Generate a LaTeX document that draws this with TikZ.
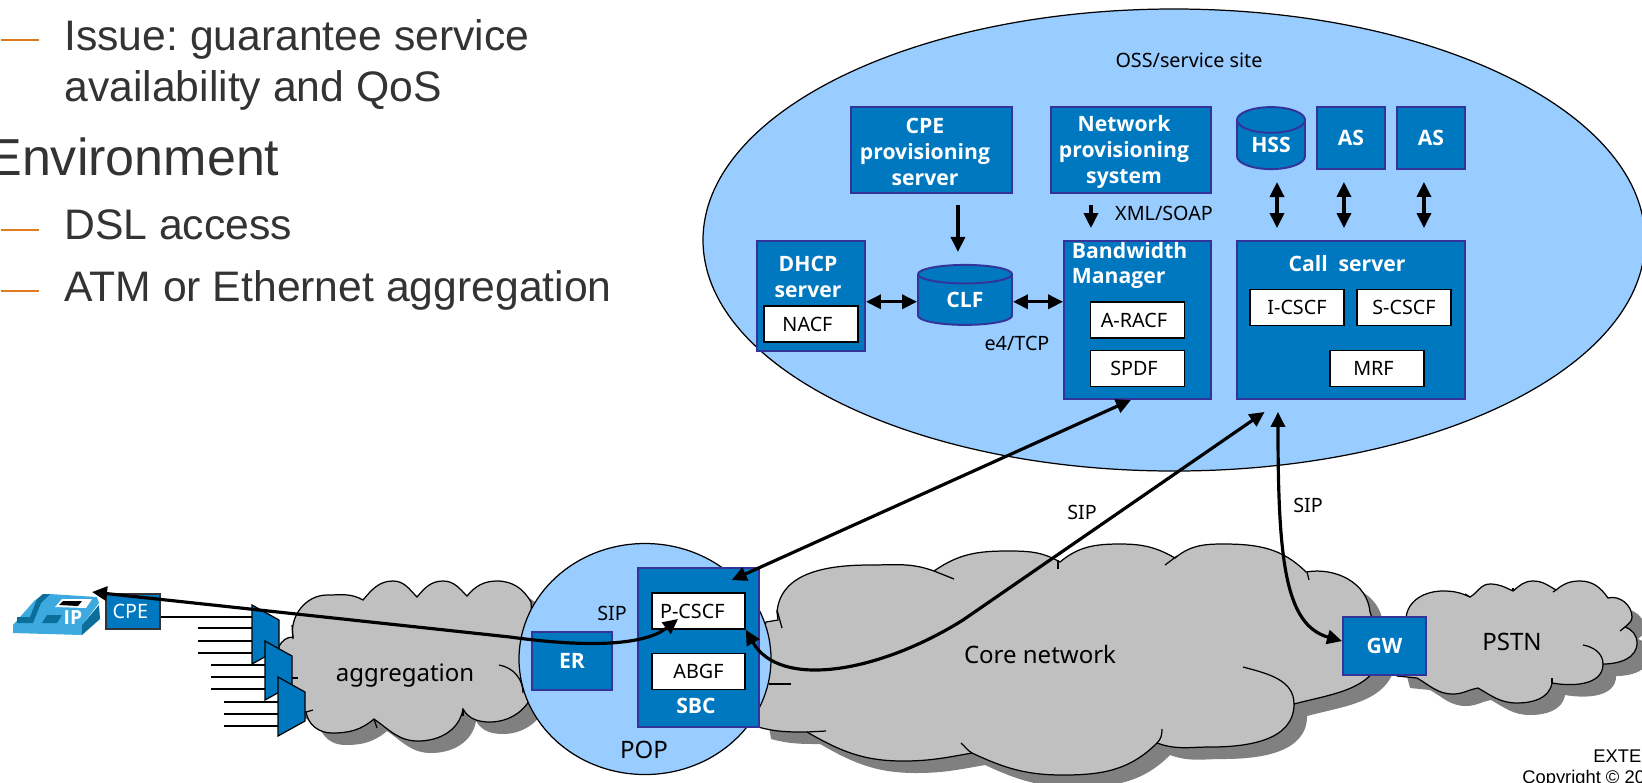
\documentclass[tikz,border=0pt]{standalone}
\usepackage{fontspec}
\setmainfont{Noto Sans}
\newfontfamily\slidefont{Liberation Sans}
\newfontfamily\boxfont{Open Sans}
\usetikzlibrary{arrows.meta,shapes.geometric}
\definecolor{ossblue}{RGB}{153,204,255}
\definecolor{boxblue}{RGB}{0,120,192}
\definecolor{boxedge}{RGB}{51,51,153}
\definecolor{cloudgray}{RGB}{192,192,192}
\definecolor{cloudshade}{RGB}{128,128,128}
\definecolor{slidegray}{RGB}{51,51,51}
\definecolor{dashorange}{RGB}{224,123,31}
\definecolor{phonelight}{RGB}{60,170,222}
\definecolor{phonedark}{RGB}{12,110,155}
\def\px{0.5669pt}
\tikzset{
  bluebox/.style={draw=boxedge,fill=boxblue,line width=1.1pt,text=white,align=center,inner sep=0pt,
    font=\boxfont\fontsize{12}{14.6}\selectfont\bfseries},
  boxtext/.style={bluebox,draw=none,fill=none},
  whitebox/.style={draw=black,fill=white,line width=.9pt,inner sep=0pt,minimum width=94*\px,minimum height=36*\px,
    font=\fontsize{11.2}{13}\selectfont},
  dbcyl/.style={bluebox,shape=cylinder,shape border rotate=90,cylinder uses custom fill,
    cylinder body fill=boxblue,cylinder end fill=boxblue},
  bubble/.style={draw=black,fill=ossblue,line width=.7pt,shape=ellipse,inner sep=0pt},
  cloudy/.style={draw=black,fill=cloudgray,line width=.7pt,
    preaction={draw=none,fill=cloudshade,transform canvas={shift={(7.4pt,-6.8pt)}}}},
  curl/.style={draw=black,line width=.7pt},
  lbl/.style={font=\fontsize{11.2}{13}\selectfont},
  bigl/.style={font=\fontsize{13.6}{15}\selectfont},
  slidetxt/.style={anchor=base west,inner sep=0pt,text=slidegray,font=\slidefont\frenchspacing\fontsize{24.2}{26}\selectfont},
  uni/.style={line width=1.8pt,-{Triangle[length=8.5pt,width=8pt]}},
  bidir/.style={line width=1.8pt,{Triangle[length=8.5pt,width=8pt]}-{Triangle[length=8.5pt,width=8pt]}},
  wire/.style={draw=black,line width=.8pt},
  mux/.style={draw=black,fill=boxblue,line width=.7pt}
}
\begin{document}
\begin{tikzpicture}[x=\px,y=-\px]
  \useasboundingbox (0,0) rectangle (1642,782);

  % slide text
  \node[slidetxt] (issue) at (64,50) {Issue: guarantee service};
  \node[slidetxt] (avail) at (64,101) {availability and QoS};
  \node[slidetxt,font=\slidefont\fontsize{29.5}{30}\selectfont] (env) at (-13,175) {Environment};
  \node[slidetxt] (dsl) at (64,239) {DSL access};
  \node[slidetxt] (atm) at (64,301) {ATM or Ethernet aggregation};
  \foreach \y in {40,230,291} \draw[dashorange,line width=1.6pt] (1,\y) -- (39,\y);

  % OSS site
  \node[bubble,minimum width=942*\px,minimum height=462*\px] (oss) at (1174,240) {};
  \node[lbl] (osslabel) at (1189,60) {OSS/service site};
  \node[bluebox,minimum width=161*\px,minimum height=86*\px] (cpeprov) at (931.5,150) {};
  \node[boxtext] (cpelabel) at (925,152) {CPE\\provisioning\\server};
  \node[bluebox,minimum width=160*\px,minimum height=86*\px] (netprov) at (1131,150) {};
  \node[boxtext] (netlabel) at (1124,152) {Network\\provisioning\\system};
  \node[dbcyl,aspect=.65,minimum width=68*\px,minimum height=62*\px] (hss) at (1271,145) {HSS};
  \node[bluebox,minimum width=68*\px,minimum height=62*\px] (asone) at (1351,138) {AS};
  \node[bluebox,minimum width=68*\px,minimum height=62*\px] (astwo) at (1431,138) {AS};
  \node[bluebox,minimum width=108*\px,minimum height=110*\px] (dhcp) at (811,296) {};
  \node[boxtext] (dhcplabel) at (808,277) {DHCP\\server};
  \node[whitebox] (nacf) at (811,324) {NACF\kern4pt};
  \node[dbcyl,aspect=.5,minimum width=94*\px,minimum height=60*\px] (clf) at (965,300) {CLF};
  \node[bluebox,minimum width=147*\px,minimum height=158*\px] (bwmgr) at (1137.5,320) {};
  \node[boxtext,align=left,anchor=north west] (bwlabel) at (1071,241) {Bandwidth\\Manager};
  \node[whitebox] (aracf) at (1137.5,320) {A-RACF\kern4pt};
  \node[whitebox] (spdf) at (1137.5,368.5) {SPDF\kern4pt};
  \node[bluebox,minimum width=228*\px,minimum height=158*\px] (callsrv) at (1351,320) {};
  \node[boxtext] (calllabel) at (1347,264) {Call\ \ server};
  \node[whitebox] (icscf) at (1297,307.5) {I-CSCF};
  \node[whitebox] (scscf) at (1404,307.5) {S-CSCF};
  \node[whitebox] (mrf) at (1377,368.5) {MRF\kern4pt};
  \node[lbl] (xml) at (1164,213) {XML/SOAP};
  \node[lbl] (etcp) at (1017,343) {e4/TCP};

  % clouds
  \draw[cloudy] (777,612) to[out=85,in=180] (870,565) to[out=0,in=160] (934,571)
    to[out=35,in=180] (1007,551) to[out=0,in=150] (1060,562)
    to[out=40,in=180] (1120,544) to[out=0,in=150] (1175,558)
    to[out=40,in=180] (1223,544) to[out=0,in=135] (1306,572)
    to[out=10,in=95] (1370,612) -- (1383,650) to[out=-100,in=15] (1294,704)
    to[out=-90,in=0] (1210,747) to[out=180,in=-20] (1157,743)
    to[out=-135,in=0] (1063,775) to[out=180,in=-25] (972,753)
    to[out=190,in=0] (903,761) to[out=180,in=-30] (807,732)
    to[out=180,in=-15] (758,727) -- (750,680) -- (766,622) -- (778,620) -- cycle;
  \draw[curl] (777,610) -- (782,628);
  \draw[curl] (934,571) -- (954,579);
  \draw[curl] (1058,560) -- (1058,569);
  \draw[curl] (1165,565) -- (1177,556);
  \draw[curl] (1307,572) -- (1309,580);
  \draw[curl] (1243,667) to[out=-15,in=90] (1294,704);
  \draw[curl] (1162,729) to[out=-90,in=45] (1157,743);
  \draw[curl] (961,743) to[out=-40,in=150] (972,753);
  \draw[curl] (807,732) -- (826,731);
  \draw[curl] (769,684) -- (791,684);

  \draw[cloudy] (293,637) to[out=100,in=180] (327,595) to[out=0,in=150] (363,600)
    to[out=50,in=180] (393,581) to[out=0,in=135] (417,597)
    to[out=50,in=180] (443,581) to[out=0,in=135] (467,596)
    to[out=50,in=180] (497,581) to[out=0,in=120] (531,602)
    -- (535,680) to[out=-90,in=0] (490,722) to[out=180,in=-60] (463,709)
    to[out=-100,in=0] (418,741) to[out=180,in=-35] (374,719)
    to[out=-140,in=0] (332,733) to[out=180,in=-80] (306,712)
    to[out=170,in=-90] (275,665) to[out=90,in=180] cycle;
  \draw[curl] (499,665) to[out=-10,in=90] (523,693);
  \draw[curl] (463,709) -- (463,716);
  \draw[curl] (374,719) -- (377,728);
  \draw[curl] (292,625) -- (293,639);
  \draw[curl] (292,678) -- (298,678);
  \draw[curl] (306,712) -- (313,710);

  \draw[cloudy] (1406,618) to[out=85,in=180] (1443,591) to[out=0,in=155] (1470,597)
    to[out=30,in=180] (1490,584) to[out=0,in=155] (1513,591)
    to[out=40,in=180] (1533,581) to[out=0,in=150] (1556,590)
    to[out=40,in=180] (1580,581) to[out=0,in=125] (1608,598)
    to[out=15,in=90] (1632,617) to[out=-90,in=45] (1625,627)
    to[out=-20,in=90] (1637,643) to[out=-90,in=0] (1603,664)
    to[out=-90,in=-10] (1552,683)
    to[out=-100,in=0] (1517,703) to[out=180,in=-30] (1478,688)
    to[out=190,in=0] (1453,694) to[out=180,in=-30] (1417,678)
    -- (1397,676) -- (1390,650) -- cycle;
  \draw[curl] (1465,594) -- (1470,597);
  \draw[curl] (1513,588) -- (1513,591);
  \draw[curl] (1553,592) -- (1556,590);
  \draw[curl] (1620,631) -- (1625,627);
  \draw[curl] (1583,645) to[out=-10,in=90] (1603,664);
  \draw[curl] (1552,678) -- (1552,683);

  \node[bigl] (agglabel) at (405,676) {aggregation};
  \node[bigl] (corelabel) at (1040,654) {Core network};
  \node[bigl] (pstnlabel) at (1512,642) {PSTN};

  % POP
  \node[bubble,minimum width=252*\px,minimum height=231*\px] (pop) at (645,659) {};
  \node[bigl] (poplabel) at (644,750) {POP};
  \node[lbl] (popsip) at (612,613) {SIP};
  \node[bluebox,minimum width=80*\px,minimum height=58*\px] (er) at (572,661) {ER};
  \node[bluebox,minimum width=121*\px,minimum height=159*\px] (sbc) at (698.5,647.5) {};
  \node[whitebox,minimum width=93*\px] (pcscf) at (698.5,611) {P-CSCF\kern7pt};
  \node[whitebox,minimum width=93*\px] (abgf) at (698.5,671.5) {ABGF};
  \node[boxtext] (sbclabel) at (696,706) {SBC};
  \node[bluebox,minimum width=83*\px,minimum height=58*\px] (gw) at (1384.5,646) {GW};

  % access side
  \coordinate (muxin) at (252,617);
  \foreach \x/\y in {252/628,252/641,252/653,265/665,265/677,265/689,278/702,278/714,278/726}
    \draw[wire] (\x-54,\y) -- (\x,\y);
  \foreach \x/\y in {252/605,265/641,278/677}
    \draw[mux] (\x,\y) -- ++(27,15) -- ++(0,29) -- ++(-27,15) -- cycle;
  \fill[phonelight] (13,625) -- (35,600) -- (50,594) -- (97,597) -- (99,603) -- (82,625) -- (82,635) -- (13,633) -- cycle;
  \fill[phonedark] (82,625) -- (99,605) -- (100,619) -- (82,635) -- cycle;
  \fill[phonedark] (17,617) -- (30,617) -- (37,599) -- (43,594) -- (50,594) -- (41,603) -- (33,623) -- (17,623) -- cycle;
  \fill[white] (55,607) -- (62,599) -- (92,599) -- (86,608) -- cycle;
  \fill[black] (59,605) -- (63,601) -- (82,601) -- (78,606) -- cycle;
  \fill[phonedark] (42,623) -- (47,615) -- (62,615) -- (57,623) -- cycle;
  \node[inner sep=0pt,text=white,font=\boxfont\fontsize{11}{12}\selectfont\bfseries] (iplabel) at (73,618) {IP};
  \coordinate (phoneend) at (92,592);
  \node[bluebox,draw=black!80,line width=.8pt,minimum width=54*\px,minimum height=35*\px,
    font=\fontsize{11.2}{13}\selectfont] (cpe) at (133,611.5) {CPE\hspace{3pt}};
  \draw[wire] (cpe.east |- muxin) -- (muxin);

  % connectors in the site
  \draw[uni] ([shift={(-4pt,-6.2pt)}]clf.north |- cpeprov.south) -- ([shift={(-4pt,6.8pt)}]clf.north);
  \draw[uni] ([shift={(-26.4pt,-6.2pt)}]bwmgr.north |- netprov.south) -- ([shift={(-26.4pt,6.8pt)}]bwmgr.north);
  \draw[bidir] ([yshift=-1pt]clf.west -| dhcp.east) -- ([yshift=-1pt]clf.west);
  \draw[bidir] ([yshift=-1pt]clf.east) -- ([yshift=-1pt]clf.east -| bwmgr.west);
  \draw[bidir] ([shift={(3.4pt,-6.8pt)}]hss.south) -- ([shift={(3.4pt,6.8pt)}]hss.south |- callsrv.north);
  \draw[bidir] ([shift={(-4pt,-6.8pt)}]asone.south) -- ([shift={(-4pt,6.8pt)}]asone.south |- callsrv.north);
  \draw[bidir] ([shift={(-4pt,-6.8pt)}]astwo.south) -- ([shift={(-4pt,6.8pt)}]astwo.south |- callsrv.north);

  % long connectors
  \draw[bidir] ([xshift=-3.7pt]bwmgr.south) -- ([shift={(-16pt,-7.4pt)}]sbc.north east);
  \draw[bidir] (pcscf.south east) .. controls (780,690) and (880,672) .. (963,620) -- ([shift={(-49pt,-6.8pt)}]callsrv.south);
  \draw[bidir] ([shift={(-41.4pt,-6.8pt)}]callsrv.south) .. controls (1278,560) and (1285,625) .. ([yshift=2.8pt]gw.west);
  \draw[bidir] (phoneend) -- (510,637) .. controls (590,648) and (645,645) .. ([shift={(-11.6pt,-4.5pt)}]pcscf.center);
  \node[lbl] (sipone) at (1082,512) {SIP};
  \node[lbl] (siptwo) at (1308,505) {SIP};

  % footer
  \node[anchor=base west,inner sep=0pt,font=\slidefont\fontsize{10.4}{12}\selectfont] (extlabel) at (1593,762) {EXTE};
  \node[anchor=base west,inner sep=0pt,font=\slidefont\fontsize{10.4}{12}\selectfont] (copylabel) at (1522,783) {Copyright © 20};
\end{tikzpicture}
\end{document}
